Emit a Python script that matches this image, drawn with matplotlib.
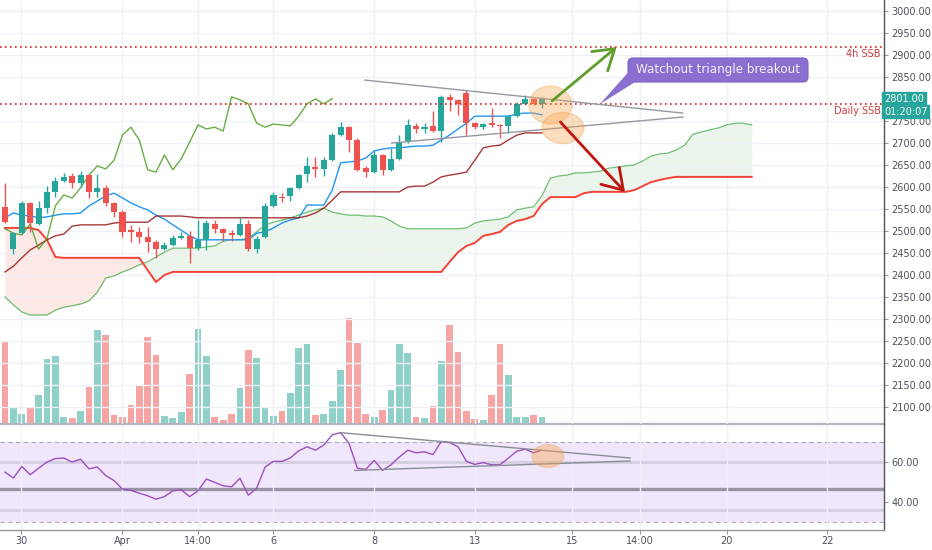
import matplotlib
matplotlib.use('Agg')
import matplotlib.pyplot as plt
import numpy as np
from matplotlib.patches import FancyBboxPatch, Polygon, Ellipse
from matplotlib.transforms import IdentityTransform

# ---------------- data ----------------
opens = [2555, 2459, 2495, 2564, 2516, 2552, 2589, 2614, 2625, 2609,
         2627, 2589, 2598, 2564, 2543, 2502, 2498, 2486, 2475, 2459,
         2468, 2484, 2489, 2461, 2480, 2516, 2505, 2495, 2491, 2516,
         2459, 2486, 2557, 2577, 2580, 2598, 2630, 2645, 2641, 2661,
         2718, 2736, 2707, 2643, 2634, 2673, 2639, 2664, 2702, 2739,
         2732, 2739, 2727, 2805, 2798, 2814, 2745, 2736, 2745, 2741,
         2739, 2761, 2789, 2800, 2789]
highs = [2609, 2498, 2568, 2566, 2568, 2602, 2623, 2632, 2632, 2636,
         2629, 2630, 2605, 2566, 2548, 2514, 2509, 2509, 2480, 2475,
         2491, 2498, 2500, 2525, 2525, 2525, 2507, 2502, 2530, 2525,
         2489, 2564, 2589, 2586, 2600, 2630, 2668, 2668, 2668, 2723,
         2748, 2739, 2711, 2648, 2682, 2675, 2689, 2718, 2755, 2745,
         2745, 2773, 2809, 2811, 2800, 2820, 2748, 2745, 2780, 2743,
         2764, 2793, 2809, 2802, 2805]
lows = [2518, 2448, 2493, 2498, 2514, 2541, 2577, 2611, 2598, 2600,
        2575, 2577, 2557, 2532, 2486, 2475, 2473, 2452, 2439, 2457,
        2466, 2482, 2427, 2457, 2457, 2495, 2477, 2477, 2489, 2455,
        2450, 2484, 2555, 2566, 2568, 2595, 2611, 2623, 2625, 2659,
        2716, 2680, 2636, 2623, 2632, 2627, 2636, 2661, 2700, 2723,
        2723, 2725, 2702, 2773, 2764, 2718, 2732, 2732, 2736, 2711,
        2723, 2759, 2786, 2786, 2780]
closes = [2520, 2495, 2564, 2518, 2552, 2589, 2614, 2623, 2609, 2627,
          2589, 2598, 2564, 2543, 2498, 2498, 2486, 2475, 2459, 2468,
          2484, 2489, 2461, 2480, 2518, 2505, 2495, 2491, 2516, 2459,
          2482, 2557, 2582, 2575, 2598, 2627, 2648, 2641, 2661, 2718,
          2736, 2707, 2639, 2634, 2673, 2639, 2664, 2702, 2741, 2732,
          2736, 2727, 2805, 2798, 2789, 2745, 2736, 2743, 2741, 2739,
          2761, 2789, 2800, 2789, 2801]
volumes = [82, 17, 10, 16, 29, 65, 68, 7, 6, 13,
           37, 94, 89, 9, 7, 19, 38, 87, 69, 8,
           6, 12, 50, 95, 68, 7, 4, 10, 36, 74,
           66, 16, 8, 13, 31, 76, 80, 9, 10, 23,
           54, 106, 81, 10, 7, 14, 34, 80, 71, 7,
           6, 18, 63, 99, 72, 13, 5, 4, 29, 80,
           49, 7, 7, 9, 7]
tenkan = [2530, 2541, 2536, 2534, 2530, 2532, 2536, 2539, 2539, 2541,
          2557, 2568, 2580, 2586, 2575, 2564, 2555, 2548, 2536, 2527,
          2514, 2502, 2489, 2480, 2480, 2480, 2480, 2480, 2480, 2480,
          2495, 2498, 2507, 2518, 2525, 2530, 2559, 2559, 2559, 2593,
          2655, 2657, 2659, 2666, 2682, 2686, 2689, 2689, 2691, 2693,
          2693, 2695, 2707, 2718, 2732, 2745, 2761, 2761, 2761, 2761,
          2761, 2766, 2768, 2768, 2764]
kijun = [2407, 2420, 2439, 2457, 2468, 2480, 2489, 2493, 2511, 2514,
         2514, 2514, 2514, 2518, 2520, 2520, 2520, 2520, 2534, 2534,
         2534, 2534, 2532, 2530, 2530, 2530, 2530, 2530, 2530, 2530,
         2530, 2530, 2530, 2530, 2530, 2530, 2534, 2541, 2552, 2570,
         2589, 2589, 2589, 2589, 2589, 2589, 2589, 2589, 2600, 2602,
         2602, 2611, 2623, 2627, 2630, 2634, 2661, 2689, 2693, 2695,
         2707, 2718, 2723, 2723, 2723]
span_a = [2350, 2332, 2316, 2309, 2309, 2309, 2320, 2327, 2330, 2334,
          2341, 2361, 2393, 2398, 2407, 2414, 2423, 2430, 2441, 2452,
          2461, 2461, 2461, 2461, 2464, 2466, 2477, 2480, 2480, 2484,
          2498, 2514, 2520, 2525, 2530, 2536, 2543, 2548, 2552, 2543,
          2539, 2536, 2536, 2534, 2534, 2532, 2523, 2511, 2505, 2505,
          2505, 2505, 2505, 2505, 2505, 2507, 2518, 2523, 2525, 2527,
          2532, 2548, 2552, 2555, 2580, 2620, 2625, 2627, 2632, 2632,
          2634, 2636, 2643, 2645, 2648, 2650, 2659, 2670, 2675, 2677,
          2684, 2695, 2720, 2725, 2730, 2734, 2741, 2745, 2745, 2741]
span_b = [2507, 2507, 2507, 2507, 2502, 2480, 2441, 2439, 2439, 2439,
          2439, 2439, 2439, 2439, 2439, 2439, 2439, 2411, 2384, 2400,
          2407, 2407, 2407, 2407, 2407, 2407, 2407, 2407, 2407, 2407,
          2407, 2407, 2407, 2407, 2407, 2407, 2407, 2407, 2407, 2407,
          2407, 2407, 2407, 2407, 2407, 2407, 2407, 2407, 2407, 2407,
          2407, 2407, 2407, 2430, 2452, 2466, 2473, 2489, 2493, 2498,
          2514, 2523, 2527, 2534, 2561, 2577, 2577, 2577, 2577, 2586,
          2589, 2589, 2589, 2589, 2589, 2593, 2602, 2611, 2616, 2620,
          2623, 2623, 2623, 2623, 2623, 2623, 2623, 2623, 2623, 2623]
lag_shift = 25
rsi = [54.9, 52.0, 57.8, 53.6, 56.9, 60.0, 61.7, 62.0, 60.0, 61.4,
       56.6, 57.5, 53.2, 50.7, 46.4, 45.9, 44.4, 43.1, 41.4, 42.7,
       45.6, 46.1, 42.7, 45.6, 51.5, 49.8, 48.1, 47.6, 51.9, 43.4,
       47.0, 57.5, 60.3, 60.3, 62.0, 65.6, 67.6, 65.9, 68.5, 73.6,
       74.7, 69.3, 56.9, 56.3, 60.8, 55.8, 58.6, 62.5, 65.9, 64.6,
       65.1, 63.7, 70.2, 69.7, 67.6, 60.3, 58.8, 59.7, 58.6, 58.6,
       62.0, 65.4, 66.4, 64.6, 65.9]
xtick_pos = [1.9, 14, 23, 32, 44, 56, 67.6, 75.7, 86, 98]
xtick_labels = ['30', 'Apr', '14:00', '6', '8', '13', '15', '14:00', '20', '22']
price_ticks = [p for p in range(2100, 3001, 50) if p != 2800]
rsi_ticks = [40, 60]
last_price = 2801.00
countdown = '01:20:07'
ssb_daily = 2789
ssb_4h = 2918
tri_upper = [(42.9, 2843), (80.8, 2768)]
tri_lower = [(46.1, 2700), (80.8, 2759)]
rsi_tri_upper = [(39.9, 74.7), (74.5, 62.0)]
rsi_tri_lower = [(41.7, 55.8), (74.5, 60.5)]

# ---------------- styles ----------------
GREEN = '#26a69a'
RED = '#ef5350'
VGREEN = '#8fd1c9'
VRED = '#f6a5a4'
GRID = '#eef0f5'
TXT = '#4c525e'
W, H = 932, 550

fig = plt.figure(figsize=(W / 100, H / 100), dpi=100)
fig.patch.set_facecolor('white')


def fr(x0, y0, x1, y1):
    return [x0 / W, 1 - y1 / H, (x1 - x0) / W, (y1 - y0) / H]


axv = fig.add_axes(fr(0, 0, 884, 424))
ax = fig.add_axes(fr(0, 0, 884, 424), sharex=axv)
axr = fig.add_axes(fr(0, 424, 884, 530), sharex=axv)
ax.set_zorder(axv.get_zorder() + 1)
ax.patch.set_visible(False)

n = len(closes)
idx = np.arange(n)
xmin, xmax = -0.6, 104.77

# volume
vcols = [VGREEN if c >= o else VRED for o, c in zip(opens, closes)]
axv.bar(idx, volumes, width=0.8, color=vcols, linewidth=0)
axv.set_ylim(0, 424)
axv.set_xlim(xmin, xmax)
axv.axis('off')

# grid
for a in (ax, axr):
    a.set_xticks(xtick_pos)
    a.grid(axis='x', color=GRID, lw=1, zorder=0)
ax.set_yticks(price_ticks)
ax.grid(axis='y', color=GRID, lw=1, zorder=0)

# cloud
m = len(span_a)
ci = np.arange(m)
sa = np.array(span_a, float)
sb = np.array(span_b, float)
ax.fill_between(ci, sa, sb, where=sa >= sb, interpolate=True, color='#43a047', alpha=0.10, lw=0, zorder=1)
ax.fill_between(ci, sa, sb, where=sa < sb, interpolate=True, color='#f44336', alpha=0.12, lw=0, zorder=1)
ax.plot(ci, sa, color='#4caf50', lw=0.9, alpha=0.8, zorder=2)
ax.plot(ci, sb, color='#f44336', lw=1.4, zorder=2)

# ichimoku lines
ax.plot(idx, tenkan, color='#2196f3', lw=1.0, zorder=3)
ax.plot(idx, kijun, color='#991515', lw=1.0, alpha=0.85, zorder=3)
lag = closes[lag_shift:]
ax.plot(np.arange(len(lag)), lag, color='#459915', lw=1.0, alpha=0.8, zorder=3)

# candles
for i in range(n):
    o, h, l, c = opens[i], highs[i], lows[i], closes[i]
    col = GREEN if c >= o else RED
    ax.vlines(i, l, h, color=col, lw=1.0, zorder=4)
    body = max(abs(c - o), 1.6)
    ax.bar(i, body, bottom=min(o, c), width=0.72, color=col, lw=0, zorder=5)

# SSB levels
ax.axhline(ssb_daily, color='#e0201b', lw=1.2, ls=(0, (1, 2)), zorder=6)
ax.axhline(ssb_4h, color='#e0201b', lw=1.2, ls=(0, (1, 2)), zorder=6)
ax.text(104.4, ssb_4h - 4, '4h SSB', color='#d23c3c', fontsize=7, ha='right', va='top', zorder=7)
ax.text(104.4, ssb_daily - 4, 'Daily SSB', color='#d23c3c', fontsize=7, ha='right', va='top', zorder=7)

# triangle
ax.plot(*zip(*tri_upper), color='#9598a1', lw=1.0, zorder=6)
ax.plot(*zip(*tri_lower), color='#9598a1', lw=1.0, zorder=6)

# ellipses (pixel-based sizes converted to data units)
px_x = 1 / 8.39
px_y = 1 / 0.44
ax.add_patch(Ellipse((65.0, 3000 - (105 - 11) * px_y), 43 * px_x, 38 * px_y,
                     facecolor='#f7a34a', alpha=0.35, edgecolor='#f0a050', lw=1, zorder=8))
ax.add_patch(Ellipse((66.5, 3000 - (128 - 11) * px_y), 42 * px_x, 31 * px_y,
                     facecolor='#f7a34a', alpha=0.35, edgecolor='#f0a050', lw=1, zorder=8))

# arrows
ax.annotate('', xy=(72.9, 2918), xytext=(65.2, 2795.5),
            arrowprops=dict(arrowstyle='->,head_length=0.7,head_width=0.45', color='#5e9c2c', lw=2,
                            mutation_scale=20, shrinkA=0, shrinkB=0), zorder=9)
ax.annotate('', xy=(73.9, 2588.6), xytext=(66.2, 2747.7),
            arrowprops=dict(arrowstyle='->,head_length=0.7,head_width=0.45', color='#c0150d', lw=2,
                            mutation_scale=20, shrinkA=0, shrinkB=0), zorder=9)

ax.set_xlim(xmin, xmax)
ax.set_ylim(3000 - (424 - 11) / 0.44, 3000 + 11 / 0.44)
ax.yaxis.tick_right()
ax.set_yticklabels([f'{p:.2f}' for p in price_ticks])
ax.tick_params(axis='y', direction='out', length=3, width=0.8, color='#9598a1', pad=2.5,
               labelsize=7, labelcolor=TXT)
ax.tick_params(axis='x', length=0, labelbottom=False)
for s in ('top', 'left', 'bottom'):
    ax.spines[s].set_visible(False)
ax.spines['right'].set_color('#50535e')
ax.spines['right'].set_linewidth(1.0)

# last price labels
ax.text(1.0, last_price, f'{last_price:.2f}', transform=ax.get_yaxis_transform(), fontsize=7,
        color='white', ha='left', va='center', zorder=20, clip_on=False,
        bbox=dict(boxstyle='square,pad=0.18', fc=GREEN, ec=GREEN))
ax.text(1.0, last_price - 13 * px_y, countdown, transform=ax.get_yaxis_transform(), fontsize=7,
        color='white', ha='left', va='center', zorder=20, clip_on=False,
        bbox=dict(boxstyle='square,pad=0.18', fc=GREEN, ec=GREEN))

# callout (pixel coordinates)
def pt(x, y):
    return (x, H - y)

box = FancyBboxPatch(pt(628, 82), 180, 24, boxstyle='round,pad=0,rounding_size=5',
                     transform=IdentityTransform(), fc='#8a6fd0', ec='#7a5fc4', lw=0.8, zorder=30)
fig.add_artist(box)
tri = Polygon([pt(628.5, 72), pt(636, 81.5), pt(600, 104)], closed=True,
              transform=IdentityTransform(), fc='#8a6fd0', ec='none', zorder=31)
fig.add_artist(tri)
fig.text(718 / W, 1 - 70 / H, 'Watchout triangle breakout', color='#f3f0fb', fontsize=8.6,
         ha='center', va='center', zorder=32)

# ---------------- RSI pane ----------------
axr.axhspan(30, 70, color='#f1e7fc', lw=0, zorder=0)
axr.axhline(70, color='#a9a9b3', lw=0.8, ls=(0, (4, 3)), zorder=1)
axr.axhline(30, color='#a9a9b3', lw=0.8, ls=(0, (4, 3)), zorder=1)
axr.axhline(60, color='#d6cfe2', lw=2.2, zorder=1)
axr.axhline(46.5, color='#9a93a3', lw=2.4, zorder=1)
axr.axhline(36, color='#d6cfe2', lw=2.2, zorder=1)
axr.plot(idx, rsi, color='#9c4fc0', lw=1.0, zorder=3)
axr.plot(*zip(*rsi_tri_upper), color='#8a8d96', lw=1.0, zorder=4)
axr.plot(*zip(*rsi_tri_lower), color='#8a8d96', lw=1.0, zorder=4)
axr.add_patch(Ellipse((64.7, 63.0), 32 * px_x, 11.5, facecolor='#f7a34a', alpha=0.4,
                      edgecolor='#f0a050', lw=0.8, zorder=5))
axr.set_ylim(60 - (530 - 462) / 2, 60 + (462 - 424) / 2)
axr.set_xlim(xmin, xmax)
axr.yaxis.tick_right()
axr.set_yticks(rsi_ticks)
axr.set_yticklabels([f'{v:.2f}' for v in rsi_ticks])
axr.set_xticklabels(xtick_labels)
axr.tick_params(axis='y', direction='out', length=3, width=0.8, color='#9598a1', pad=2.5,
                labelsize=7, labelcolor=TXT)
axr.tick_params(axis='x', direction='out', length=3, width=0.8, color='#9598a1', pad=1.5,
                labelsize=7, labelcolor=TXT)
axr.spines['top'].set_color('#b2b5be')
axr.spines['top'].set_linewidth(1.6)
axr.spines['left'].set_visible(False)
axr.spines['bottom'].set_color('#9598a1')
axr.spines['bottom'].set_linewidth(1.0)
axr.spines['right'].set_color('#50535e')
axr.spines['right'].set_linewidth(1.0)

fig.savefig('out.png', dpi=100)
